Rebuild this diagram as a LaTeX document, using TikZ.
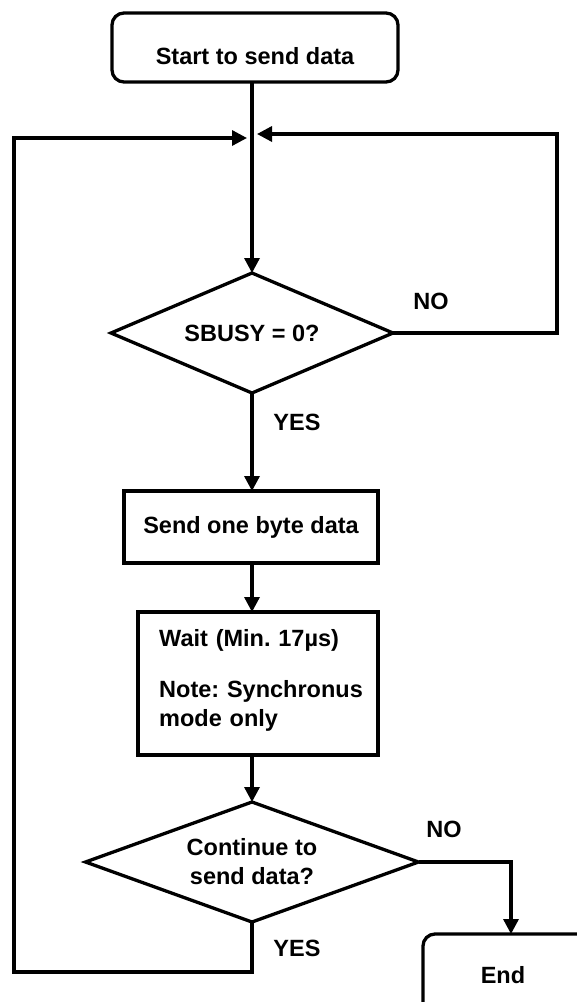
\documentclass[tikz,border=0pt]{standalone}
\usepackage{fontspec}
\setmainfont{Liberation Sans}
\usetikzlibrary{shapes.geometric,arrows.meta,calc}
\begin{document}
\begin{tikzpicture}[x=1pt,y=-1pt,
  every node/.style={font=\fontsize{23.5}{29}\selectfont\bfseries\frenchspacing},
  flow/.style={line width=3.3pt, -{Triangle[length=15pt,width=15pt]}},
  box/.style={draw, line width=3.3pt, rectangle, inner sep=0pt, outer sep=0pt},
  rbox/.style={box, rounded corners=12pt},
  decision/.style={draw, line width=3.3pt, diamond, inner sep=0pt, outer sep=0pt},
  lbl/.style={inner sep=0pt}
]
\useasboundingbox (0,0) rectangle (577,1002);
\clip (0,0) rectangle (577,1002);

% nodes
\node[rbox, minimum width=286pt, minimum height=69pt] (start) at (255,47.5) {};
\node[lbl] (starttxt) at (255,56) {Start to send data};
\node[decision, aspect=2.35, minimum width=282pt, minimum height=120pt] (d1) at (252,333) {SBUSY = 0?};
\node[box, minimum width=254pt, minimum height=72pt] (send) at (251,527) {Send one byte data};
\node[box, minimum width=240pt, minimum height=143pt] (wait) at (258,683.5) {};
\node[lbl, anchor=west, align=left, text width=210pt] (waittxt) at (159,680) {Wait (Min. 17µs)\\[22pt]Note: Synchronus\\mode only};
\node[decision, aspect=2.775, minimum width=333pt, minimum height=120pt, align=center] (d2) at (252,862) {Continue to\\send data?};
\node[rbox, minimum width=220pt, minimum height=110pt, anchor=north west] (endn) at (423,934) {};
\node[lbl] (endtxt) at (503,975) {End};

% labels
\node[lbl] (no1) at (431,301) {NO};
\node[lbl] (yes1) at (297,422) {YES};
\node[lbl] (no2) at (444,829) {NO};
\node[lbl] (yes2) at (297,948) {YES};

% junction points
\coordinate (jl) at (247,138);
\coordinate (jr) at (257,134);
\coordinate (endin) at (511,934);

% connectors
\draw[flow] (start.south -| d1.north) -- (d1.north);
\draw[flow] (d1.south) -- (d1.south |- send.north);
\draw[flow] (send.south -| d1.south) -- (d1.south |- wait.north);
\draw[flow] (d1.south |- wait.south) -- (d2.north);
\draw[flow] (d2.east) -| (endin);
\draw[flow] (d1.east) -| (557,134) -- (jr);
\draw[flow] (d2.south) -- (252,972) -- (14,972) -- (14,138) -- (jl);
\end{tikzpicture}
\end{document}
